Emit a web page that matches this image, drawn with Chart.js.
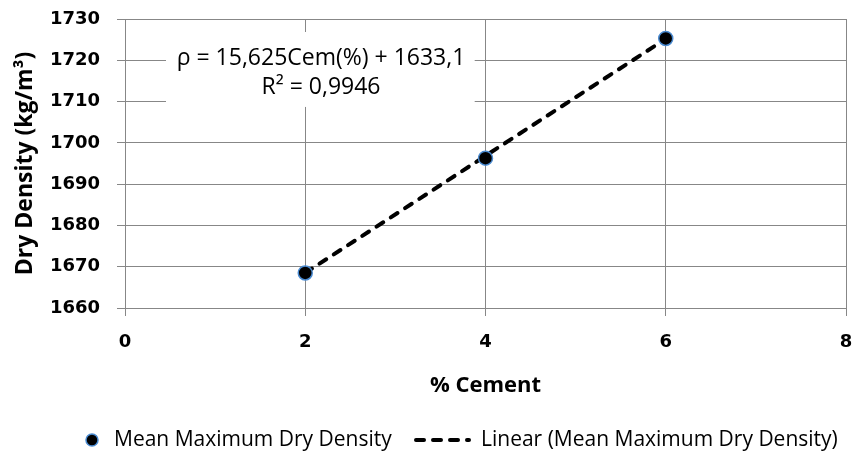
<!DOCTYPE html>
<html><head><meta charset="utf-8">
<script src="https://cdn.jsdelivr.net/npm/chart.js@4/dist/chart.umd.min.js"></script>
<style>html,body{margin:0;padding:0;background:#fff}#wrap{width:857px;height:466px}</style>
</head><body><div id="wrap"><canvas id="c" width="857" height="466"></canvas></div>
<script>
// ---- data ----
const cementPct = [2, 4, 6];
const meanMaxDryDensity = [1668.5, 1696.3, 1725.3];
const trendCement = [2, 6];
const trendDensity = [1668.5, 1725.2];
const xTicks = [0, 2, 4, 6, 8];
const yTicks = [1660, 1670, 1680, 1690, 1700, 1710, 1720, 1730];
const seriesNames = ['Mean Maximum Dry Density', 'Linear (Mean Maximum Dry Density)'];
const equationLines = ['\u03C1 = 15,625Cem(%) + 1633,1', 'R\u00B2 = 0,9946'];
const xTitle = '% Cement';
const yTitle = 'Dry Density (kg/m\u00B3)';

const FONT = "'Open Sans', 'Liberation Sans', sans-serif";
const TICKFONT = "'DejaVu Sans', 'Open Sans', sans-serif";
const GRID = '#878787';

const annotationPlugin = {
  id: 'eqBox',
  afterDatasetsDraw(chart) {
    const {ctx, scales: {x, y}} = chart;
    const x0 = x.getPixelForValue(0.455), x1 = x.getPixelForValue(3.88);
    const y0 = y.getPixelForValue(1726.85), y1 = y.getPixelForValue(1708.7);
    ctx.save();
    ctx.fillStyle = '#fff';
    ctx.fillRect(x0, y0, x1 - x0, y1 - y0);
    ctx.fillStyle = '#000';
    ctx.font = '23px ' + FONT;
    ctx.textAlign = 'center';
    ctx.textBaseline = 'middle';
    const cx = x.getPixelForValue(2.175);
    ctx.fillText(equationLines[0], cx, y.getPixelForValue(1720.4));
    ctx.fillText(equationLines[1], cx, y.getPixelForValue(1713.3));
    ctx.restore();
  }
};

const legendPlugin = {
  id: 'customLegend',
  afterDraw(chart) {
    const ctx = chart.ctx;
    const ds = chart.data.datasets;
    const yc = 440;
    ctx.save();
    ctx.font = '21px ' + FONT;
    ctx.textBaseline = 'middle';
    // marker item
    ctx.beginPath();
    ctx.arc(92, yc, 6, 0, Math.PI * 2);
    ctx.fillStyle = ds[0].pointBackgroundColor;
    ctx.fill();
    ctx.lineWidth = 1.5;
    ctx.strokeStyle = ds[0].pointBorderColor;
    ctx.stroke();
    ctx.fillStyle = '#000';
    ctx.textAlign = 'left';
    ctx.fillText(seriesNames[0], 114, yc);
    // line item
    ctx.beginPath();
    ctx.setLineDash(ds[1].borderDash);
    ctx.lineCap = ds[1].borderCapStyle;
    ctx.lineWidth = ds[1].borderWidth;
    ctx.strokeStyle = ds[1].borderColor;
    ctx.moveTo(416, yc);
    ctx.lineTo(469, yc);
    ctx.stroke();
    ctx.setLineDash([]);
    ctx.fillText(seriesNames[1], 481, yc);
    ctx.restore();
  }
};

function resetPad(s) {
  s.paddingTop = 0; s.paddingBottom = 0; s.paddingLeft = 0; s.paddingRight = 0;
}

new Chart(document.getElementById('c'), {
  type: 'scatter',
  data: {
    datasets: [
      {
        label: seriesNames[0],
        data: cementPct.map((c, i) => ({x: c, y: meanMaxDryDensity[i]})),
        pointRadius: 7,
        pointBackgroundColor: '#000000',
        pointBorderColor: '#4a8ad0',
        pointBorderWidth: 1.5,
        showLine: false
      },
      {
        label: seriesNames[1],
        data: trendCement.map((c, i) => ({x: c, y: trendDensity[i]})),
        showLine: true,
        pointRadius: 0,
        borderColor: '#000000',
        borderWidth: 4,
        borderDash: [8, 9],
        borderCapStyle: 'round',
        fill: false
      }
    ]
  },
  options: {
    responsive: false,
    animation: false,
    layout: {padding: {left: 0, right: 11, top: 19, bottom: 53}},
    plugins: {legend: {display: false}, tooltip: {enabled: false}},
    scales: {
      x: {
        type: 'linear', min: 0, max: 8,
        afterBuildTicks: s => { s.ticks = xTicks.map(v => ({value: v})); },
        afterFit: s => { s.height = 105; resetPad(s); },
        ticks: {color: '#000', font: {family: TICKFONT, size: 18, weight: 'bold'}, padding: 16,
                callback: v => String(v)},
        grid: {color: GRID, tickLength: 8, lineWidth: 1},
        border: {color: GRID},
        title: {display: true, text: xTitle, color: '#000', font: {family: FONT, size: 22, weight: 'bold'}, padding: {top: 0, bottom: 14}}
      },
      y: {
        type: 'linear', min: 1660, max: 1730,
        afterBuildTicks: s => { s.ticks = yTicks.map(v => ({value: v})); },
        afterFit: s => { s.width = 125; resetPad(s); },
        ticks: {color: '#000', font: {family: TICKFONT, size: 18, weight: 'bold'}, padding: 17,
                callback: v => String(v)},
        grid: {color: GRID, tickLength: 8, lineWidth: 1},
        border: {color: GRID},
        title: {display: true, text: yTitle, color: '#000', font: {family: FONT, size: 23, weight: 'bold'}, padding: {top: 12, bottom: 0}}
      }
    }
  },
  plugins: [annotationPlugin, legendPlugin]
});
</script>
</body></html>
